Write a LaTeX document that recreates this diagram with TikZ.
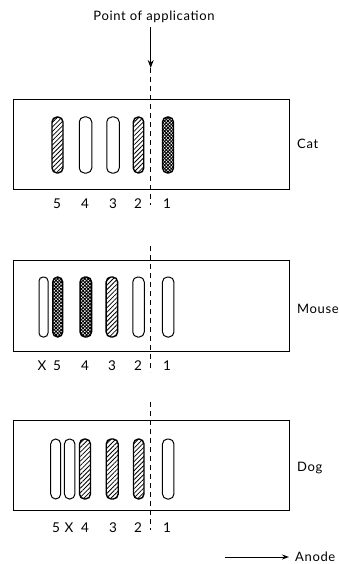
\documentclass[tikz,border=0pt]{standalone}
\usepackage{fontspec}
\setmainfont{Lato}[LetterSpace=5]
\usetikzlibrary{patterns.meta,arrows.meta}

\tikzset{
  plate/.style={draw, line width=0.9pt, minimum width=276pt, minimum height=90pt, inner sep=0pt},
  band/.style={draw, line width=1pt, rounded corners=5pt, minimum width=11.5pt,
    minimum height=57pt, inner sep=0pt},
  hatched/.style={band, line width=1.4pt, pattern={Lines[angle=45, distance=3.2pt, line width=0.8pt]}},
  dotted band/.style={band, line width=1.4pt, pattern={Hatch[angle=45, distance=2.4pt, line width=0.9pt]}},
  lbl/.style={font=\fontsize{13}{15}\selectfont, inner sep=0pt},
  num/.style={lbl, anchor=base, font=\fontsize{13.5}{15}\selectfont},
  axis line/.style={line width=0.8pt, dash pattern=on 5pt off 4pt},
}

\begin{document}
\begin{tikzpicture}[x=1pt, y=-1pt]
\useasboundingbox (0,0) rectangle (338,564);

% marker of the application point
\node[lbl, anchor=base] (poa) at (154,21) {Point of application};
\coordinate (arrtop) at (150.7,27);
\coordinate (tip) at (150.7,68);
\draw[line width=0.9pt, -{Stealth[length=8pt, width=6pt]}] (arrtop) -- (tip);

% dashed line through the origin on each strip
\coordinate (c1) at (150.7,205);
\coordinate (m0) at (150.7,246);
\coordinate (m1) at (150.7,372);
\coordinate (d0) at (150.7,402);
\coordinate (d1) at (150.7,530);

% ---- Cat ----
\node[plate, minimum height=90pt] (catplate) at (151,144) {};
\node[hatched, minimum height=56pt, minimum width=11pt] (cat5) at (57.5,145) {};
\node[band, minimum height=56pt, minimum width=12.5pt] (cat4) at (85.5,145) {};
\node[band, minimum height=56pt, minimum width=12.5pt] (cat3) at (113,145) {};
\node[hatched, minimum height=56pt, minimum width=10.5pt] (cat2) at (138.5,145) {};
\node[dotted band, minimum height=56pt, minimum width=11pt] (cat1) at (168,145) {};
\node[lbl, anchor=west] (catname) at (297,144) {Cat};
\node[num] (cn5) at (57,208) {5};
\node[num] (cn4) at (85,208) {4};
\node[num] (cn3) at (113,208) {3};
\node[num] (cn2) at (138,208) {2};
\node[num] (cn1) at (167,208) {1};
\draw[axis line] (tip) -- (c1);

% ---- Mouse ----
\node[plate, minimum height=91pt] (mouseplate) at (151,306) {};
\node[band, rounded corners=4pt, minimum height=60pt, minimum width=9pt] (mX) at (43.5,307) {};
\node[dotted band, minimum height=60pt, minimum width=10pt] (m5) at (57.7,307) {};
\node[dotted band, minimum height=60pt, minimum width=11.5pt] (m4) at (85.8,307) {};
\node[hatched, minimum height=60pt, minimum width=11.5pt] (m3) at (111.9,307) {};
\node[band, minimum height=60pt, minimum width=11.5pt] (m2) at (138.5,307) {};
\node[band, minimum height=60pt, minimum width=11.5pt] (m1b) at (168.2,307) {};
\node[lbl, anchor=west] (mousename) at (297,309) {Mouse};
\node[num] (mnX) at (42,370) {X};
\node[num] (mn5) at (57,370) {5};
\node[num] (mn4) at (85,370) {4};
\node[num] (mn3) at (112,370) {3};
\node[num] (mn2) at (138,370) {2};
\node[num] (mn1) at (167,370) {1};
\draw[axis line] (m0) -- (m1);

% ---- Dog ----
\node[plate, minimum height=90pt] (dogplate) at (151,465.7) {};
\node[band, minimum height=60pt, minimum width=10pt] (d5) at (55.7,469) {};
\node[band, minimum height=60pt, minimum width=10.5pt] (dX) at (69.7,469) {};
\node[hatched, minimum height=60pt, minimum width=11pt] (d4) at (85,469) {};
\node[hatched, minimum height=60pt, minimum width=12pt] (d3) at (112.2,469) {};
\node[hatched, minimum height=60pt, minimum width=10.5pt] (d2) at (138.7,469) {};
\node[band, minimum height=60pt, minimum width=11.5pt] (d1b) at (168.2,469) {};
\node[lbl, anchor=west] (dogname) at (297,468) {Dog};
\node[num] (dn5) at (56,532) {5};
\node[num] (dnX) at (69,532) {X};
\node[num] (dn4) at (85,532) {4};
\node[num] (dn3) at (113,532) {3};
\node[num] (dn2) at (138,532) {2};
\node[num] (dn1) at (167,532) {1};
\draw[axis line] (d0) -- (d1);

% direction of the anode
\node[lbl, anchor=west] (anode) at (295,557) {Anode};
\coordinate (anodetail) at (225,557);
\draw[line width=0.9pt, shorten >=6pt, -{Stealth[length=7pt, width=5pt]}] (anodetail) -- (anode.west);
\end{tikzpicture}
\end{document}
